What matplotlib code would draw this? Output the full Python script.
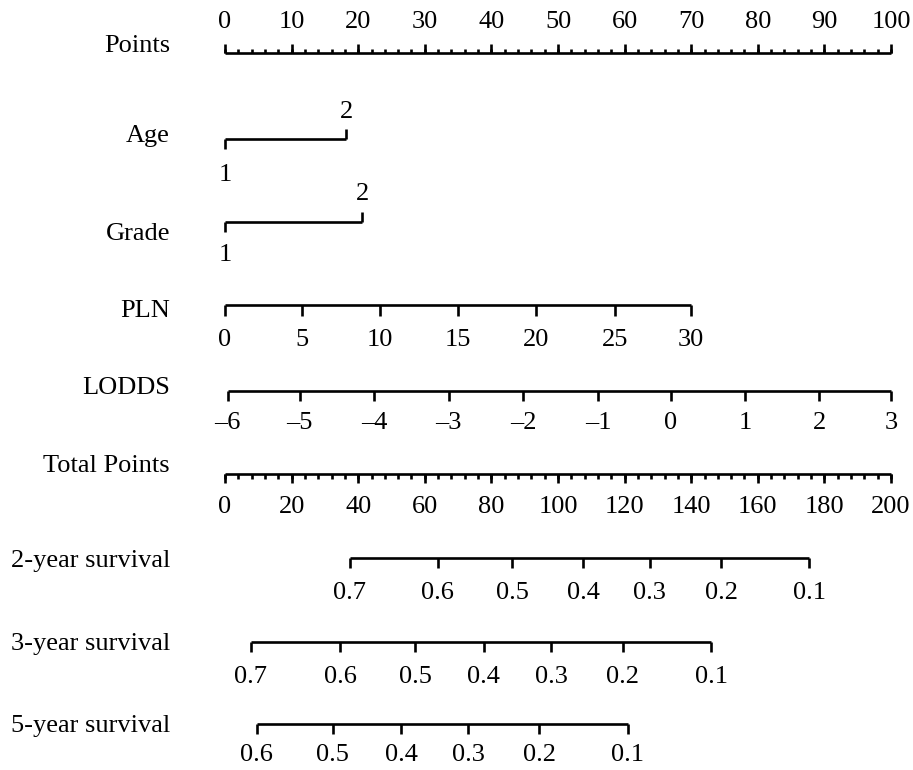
import numpy as np
import matplotlib
matplotlib.use('Agg')
import matplotlib.pyplot as plt

plt.rcParams['font.family'] = ['Liberation Serif', 'DejaVu Serif']

# points scale
points_major = np.arange(0, 101, 10)
points_minor = np.arange(0, 101, 2)

# categorical predictors: level -> points
age_levels = ['1', '2']
age_points = [0, 18.2]
grade_levels = ['1', '2']
grade_points = [0, 20.6]

# continuous predictors
pln_values = [0, 5, 10, 15, 20, 25, 30]
pln_points = [0, 11.6, 23.3, 35.0, 46.7, 58.5, 69.9]
lodds_values = [-6, -5, -4, -3, -2, -1, 0, 1, 2, 3]
lodds_points = [0.4, 11.2, 22.4, 33.6, 44.8, 56.0, 66.9, 78.1, 89.2, 100]

# total points scale
total_major = np.arange(0, 201, 20)
total_minor = np.arange(0, 201, 4)

# survival probabilities -> total points
surv2_probs = [0.7, 0.6, 0.5, 0.4, 0.3, 0.2, 0.1]
surv2_total = [37.4, 63.9, 86.3, 107.6, 127.6, 149.0, 175.5]
surv3_probs = [0.7, 0.6, 0.5, 0.4, 0.3, 0.2, 0.1]
surv3_total = [7.7, 34.6, 57.1, 77.7, 98.0, 119.4, 146.0]
surv5_probs = [0.6, 0.5, 0.4, 0.3, 0.2, 0.1]
surv5_total = [9.5, 32.3, 52.9, 73.0, 94.3, 121.0]

W, H = 913, 770
PX = 6.66      # pixels per point
X0 = 225       # pixel of 0 points
FS = 19
LW = 1.9

fig = plt.figure(figsize=(W / 100, H / 100), dpi=100)
ax = fig.add_axes([0, 0, 1, 1])
ax.set_xlim(-X0 / PX, (W - X0) / PX)
ax.set_ylim(H, 0)
ax.axis('off')


def fmt(v):
    s = f'{v:g}'
    return s.replace('-', '\u2013')


def scale(y, pos, labels, tick=10, up=False, lab_off=33, minor=None, minor_tick=5):
    ax.hlines(y, min(pos), max(pos), color='black', lw=LW)
    sgn = -1 if up else 1
    ax.vlines(pos, y, y + sgn * tick, color='black', lw=LW)
    if minor is not None:
        ax.vlines(minor, y, y + sgn * minor_tick, color='black', lw=LW)
    for p, l in zip(pos, labels):
        ax.text(p, y + sgn * lab_off, l, ha='center', va='center', fontsize=FS)


def row_label(y, text):
    ax.text(-(X0 - 170) / PX, y, text, ha='right', va='center', fontsize=FS)


# Points
row_label(46, 'Points')
scale(53, points_major, [fmt(v) for v in points_major], tick=9, up=True,
      lab_off=31, minor=points_minor, minor_tick=4)

# Age
row_label(136, 'Age')
y = 139
ax.hlines(y, age_points[0], age_points[1], color='black', lw=LW)
ax.vlines(age_points[0], y, y + 10, color='black', lw=LW)
ax.vlines(age_points[1], y, y - 10, color='black', lw=LW)
ax.text(age_points[0], y + 36, age_levels[0], ha='center', va='center', fontsize=FS)
ax.text(age_points[1], y - 27, age_levels[1], ha='center', va='center', fontsize=FS)

# Grade
row_label(234, 'Grade')
y = 222
ax.hlines(y, grade_points[0], grade_points[1], color='black', lw=LW)
ax.vlines(grade_points[0], y, y + 10, color='black', lw=LW)
ax.vlines(grade_points[1], y, y - 10, color='black', lw=LW)
ax.text(grade_points[0], y + 33, grade_levels[0], ha='center', va='center', fontsize=FS)
ax.text(grade_points[1], y - 28, grade_levels[1], ha='center', va='center', fontsize=FS)

# PLN
row_label(311, 'PLN')
scale(305, pln_points, [fmt(v) for v in pln_values], tick=11, lab_off=35)

# LODDS
row_label(388, 'LODDS')
scale(391, lodds_points, [fmt(v) for v in lodds_values], tick=10, lab_off=32)

# Total Points (drawn on points scale: total / 2)
row_label(466, 'Total Points')
scale(474, total_major / 2, [fmt(v) for v in total_major], tick=9, lab_off=33,
      minor=total_minor / 2, minor_tick=5)

# survival scales
row_label(561, '2-year survival')
scale(558, np.array(surv2_total) / 2, [fmt(v) for v in surv2_probs], tick=10, lab_off=35)
row_label(644, '3-year survival')
scale(642, np.array(surv3_total) / 2, [fmt(v) for v in surv3_probs], tick=10, lab_off=35)
row_label(726, '5-year survival')
scale(724, np.array(surv5_total) / 2, [fmt(v) for v in surv5_probs], tick=10, lab_off=31)

fig.savefig('out.png', dpi=100)
